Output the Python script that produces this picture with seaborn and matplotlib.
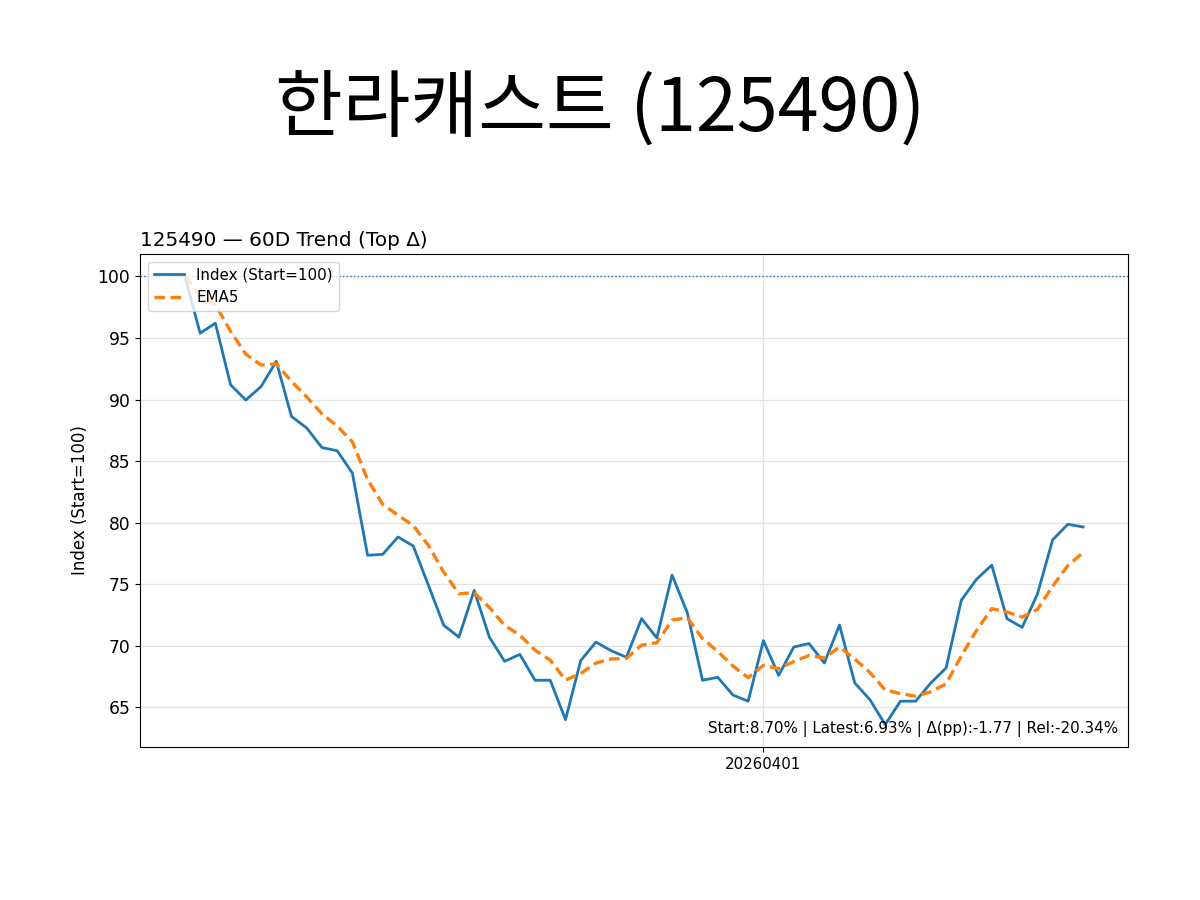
import matplotlib
matplotlib.use("Agg")
import matplotlib.pyplot as plt
import seaborn as sns
import pandas as pd

# ---- data ----
title_name = "한라캐스트 (125490)"
subtitle = "125490 — 60D Trend (Top Δ)"
index_values = [
    100.0, 95.39, 96.2, 91.2, 89.96, 91.05, 93.1, 88.63, 87.69, 86.1,
    85.84, 84.03, 77.35, 77.43, 78.84, 78.1, 74.9, 71.67, 70.7, 74.5,
    70.7, 68.74, 69.3, 67.2, 67.2, 64.0, 68.8, 70.3, 69.6, 69.07,
    72.2, 70.64, 75.74, 72.7, 67.2, 67.44, 66.0, 65.5, 70.42, 67.6,
    69.9, 70.18, 68.6, 71.68, 66.98, 65.62, 63.6, 65.5, 65.5, 66.98,
    68.2, 73.7, 75.4, 76.55, 72.2, 71.5, 74.2, 78.6, 79.87, 79.65,
]
tick_positions = [38]
tick_labels = ["20260401"]
stats_text = "Start:8.70% | Latest:6.93% | Δ(pp):-1.77 | Rel:-20.34%"

df = pd.DataFrame({"day": range(len(index_values)), "index": index_values})
df["ema5"] = df["index"].ewm(span=5, adjust=False).mean()

plt.rcParams['font.family'] = ['DejaVu Sans']

fig = plt.figure(figsize=(12, 9), dpi=100)
fig.text(0.5, 0.877, title_name, ha="center", va="center", fontsize=53,
         family=['Noto Sans CJK KR', 'DejaVu Sans'])

ax = fig.add_axes([140 / 1200, 1 - 747 / 900, 988 / 1200, 493 / 900])

sns.lineplot(data=df, x="day", y="index", ax=ax, color="#1f77b4", linewidth=2.0,
             label="Index (Start=100)")
sns.lineplot(data=df, x="day", y="ema5", ax=ax, color="#ff7f0e", linewidth=2.4,
             linestyle=(0, (3.2, 1.6)), label="EMA5")
ax.axhline(100, color="#1f77b4", linestyle=":", linewidth=1.0)

ax.set_xticks(tick_positions)
ax.set_xticklabels(tick_labels)
ax.tick_params(axis="x", labelsize=10.8)
ax.tick_params(axis="y", labelsize=12.3)
ax.set_xlabel("")
ax.set_ylabel("Index (Start=100)", fontsize=12, labelpad=6)
ax.set_title(subtitle, loc="left", fontsize=14.4)
ax.grid(True, color="#dddddd", linewidth=0.9, alpha=0.8)
ax.set_axisbelow(True)
ax.legend(loc="upper left", fontsize=10.9)
ax.text(0.99, 0.02, stats_text, transform=ax.transAxes, ha="right", va="bottom",
        fontsize=10.9)

fig.savefig("out.png", dpi=100)
